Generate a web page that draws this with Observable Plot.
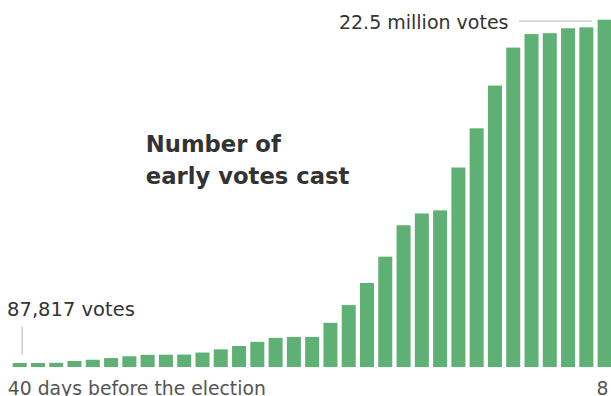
<!DOCTYPE html>
<html><head><meta charset="utf-8">
<script src="https://cdn.jsdelivr.net/npm/d3@7"></script>
<script src="https://cdn.jsdelivr.net/npm/@observablehq/plot@0.6"></script>
<style>html,body{margin:0;padding:0;background:#fff;overflow:hidden;}</style>
</head><body><div id="chart"></div>
<script>
// Days before the election (left to right)
const days = [40,39,38,37,36,35,34,33,32,31,30,29,28,27,26,25,24,23,22,21,20,19,18,17,16,15,14,13,12,11,10,9,8];
// Cumulative early votes cast, millions
const votesMillions = [0.087817,0.09,0.1,0.22,0.30,0.41,0.53,0.62,0.63,0.64,0.77,0.98,1.20,1.47,1.73,1.79,1.79,2.71,3.87,5.31,7.03,9.08,9.85,10.05,12.85,15.41,18.2,20.68,21.56,21.62,21.94,22.0,22.5];
const titleText = "Number of\nearly votes cast";
const firstLabel = "87,817 votes";
const lastLabel = "22.5 million votes";
const axisLabels = ["40 days before the election", "8"];

const data = days.map((d, i) => ({day: d, votes: votesMillions[i]}));
const first = data[0];
const last = data[data.length - 1];

const chart = Plot.plot({
  width: 611, height: 396,
  marginLeft: 8.42, marginRight: -4.9, marginTop: 22.35, marginBottom: 29,
  style: {fontFamily: "'DejaVu Sans'", fontSize: "19px", background: "#fff", overflow: "hidden"},
  x: {type: "band", domain: days, padding: 0.234, round: false, axis: null},
  y: {domain: [0, 22.5], axis: null},
  marks: [
    Plot.barY(data, {x: "day", y: "votes", fill: "#5fb074", insetTop: -2.65}),
    Plot.ruleX([first], {x: "day", y1: "votes", y2: "votes", stroke: "#b8b8b8", strokeWidth: 1, dx: 2, insetTop: -39, insetBottom: 10.7}),
    Plot.text([first], {x: "day", y: "votes", text: () => firstLabel, textAnchor: "start", lineAnchor: "bottom", dx: -13.1, dy: -49.7, fill: "#333", fontSize: 19.5}),
    Plot.ruleY([last], {y: "votes", x1: () => days[28], x2: () => days[31], stroke: "#b8b8b8", strokeWidth: 1, dy: -1.8, insetLeft: -5.5, insetRight: 1.4}),
    Plot.text([last], {x: () => days[28], y: "votes", text: () => lastLabel, textAnchor: "end", lineAnchor: "bottom", dx: -23.5, dy: 5.95, fill: "#333", fontSize: 19}),
    Plot.text([titleText], {frameAnchor: "top-left", text: d => d, textAnchor: "start", lineAnchor: "bottom", dx: 136.9, dy: 160.95, fontWeight: "bold", fontSize: 22.7, lineHeight: 1.39, fill: "#333"}),
    Plot.text([days[0]], {x: d => d, frameAnchor: "bottom", text: () => axisLabels[0], textAnchor: "start", lineAnchor: "bottom", dx: -12.4, dy: 27, fill: "#555", fontSize: 18.8}),
    Plot.text([days[days.length - 1]], {x: d => d, frameAnchor: "bottom", text: () => axisLabels[1], textAnchor: "start", lineAnchor: "bottom", dx: -8.7, dy: 27, fill: "#555", fontSize: 18.8})
  ]
});
document.getElementById("chart").appendChild(chart);
</script>
</body></html>
